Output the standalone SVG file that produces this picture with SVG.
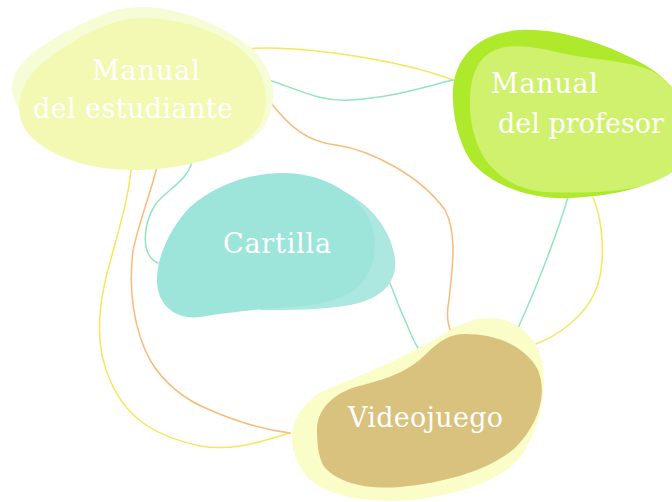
<svg xmlns="http://www.w3.org/2000/svg" width="672" height="502" viewBox="0 0 672 502">
<style>
.e{fill:none;stroke-width:1.5;stroke-linecap:round}
.y{stroke:#fde35a}
.m{stroke:#93e4c1}
.o{stroke:#f9bb7a}
.t{font-family:"DejaVu Serif","Liberation Serif",serif;font-size:27px;fill:#ffffff}
</style>
<rect width="672" height="502" fill="#ffffff"/>
<g id="connectors">
<path class="e y" d="M235,50 C290,42 400,60 453,80"/>
<path class="e m" d="M263,78 C300,90 320,102 350,100 C390,98 420,88 453,80"/>
<path class="e o" d="M266,96 C290,130 310,142 336,145 C370,150 420,175 445,210 C458,235 452,270 449,300 C446,315 448,325 451,332"/>
<path class="e m" d="M193,155 C192,180 165,190 155,205 C143,225 140,255 158,263"/>
<path class="e y" d="M131,170 C128,200 120,225 112,255 C100,295 92,340 110,380 C125,415 150,435 200,446 C235,452 265,440 290,433"/>
<path class="e o" d="M157,167 C150,195 138,225 133,251 C128,290 134,330 150,360 C165,385 185,400 210,410 C240,423 265,430 290,433"/>
<path class="e m" d="M375,258 C390,275 395,300 405,320 C410,332 414,342 418,348"/>
<path class="e m" d="M568,197 C560,225 540,280 518,328"/>
<path class="e y" d="M593,198 C603,220 607,265 595,292 C585,315 560,335 536,344"/>
</g>
<g id="node-estudiante">
<path fill="#f6fcd5" d="M140,7 C180,7 220,25 245,43 C265,58 275,80 273,100 C271,125 255,143 225,153 C190,162 120,160 80,150 C40,140 15,115 12,90 C10,65 40,45 70,30 C95,17 115,7 140,7 Z"/>
<path fill="#f3f9b3" d="M140,18 C180,18 215,30 238,47 C262,65 270,90 264,115 C257,140 230,155 190,164 C165,169 150,170 133,170 C90,170 55,158 32,138 C16,122 16,100 26,82 C40,60 70,42 95,30 C110,23 125,18 140,18 Z"/>
<text class="t" x="146" y="80" text-anchor="middle" textLength="108">Manual</text>
<text class="t" x="133" y="118" text-anchor="middle" textLength="200">del estudiante</text>
</g>
<g id="node-profesor">
<path fill="#aee92b" d="M453,90 C455,55 480,33 520,30 C560,28 610,45 645,65 C675,82 690,110 688,140 C685,175 640,195 570,198 C530,200 490,185 470,160 C458,140 452,115 453,90 Z"/>
<path fill="#d0f16d" d="M470,103 C470,75 478,52 505,47 C535,43 560,55 590,58 C615,61 635,64 650,70 C675,82 692,110 692,140 C690,170 655,186 620,190 C595,193 570,193 545,192 C515,190 490,172 480,150 C473,135 470,120 470,103 Z"/>
<text class="t" x="491" y="93" textLength="107">Manual</text>
<text class="t" x="498" y="133" textLength="166">del profesor</text>
</g>
<g id="node-cartilla">
<path fill="#ace7e0" d="M330,185 C365,198 390,225 395,258 C398,285 378,300 350,305 C320,310 290,310 260,310 L300,250 Z"/>
<path fill="#9de5da" d="M283,173 C320,173 350,190 365,212 C380,235 378,265 360,285 C345,300 320,305 290,307 C260,309 230,312 200,317 C175,320 158,305 157,282 C156,258 170,228 190,207 C215,185 250,173 283,173 Z"/>
<text class="t" x="223" y="253" textLength="108">Cartilla</text>
</g>
<g id="node-videojuego">
<path fill="#fbfdc9" d="M292,437 C292,418 305,398 330,388 C370,372 410,355 445,333 C462,322 478,318 490,318 C515,318 535,335 542,360 C548,390 540,430 520,458 C500,480 460,495 410,500 C370,503 330,497 310,480 C298,468 292,452 292,437 Z"/>
<path fill="#d9c17e" d="M317,430 C317,405 340,390 363,385 C390,378 410,370 425,355 C440,340 450,334 465,334 C495,334 525,345 538,370 C548,395 538,425 515,448 C490,470 445,483 400,487 C365,490 335,482 323,465 C318,455 317,442 317,430 Z"/>
<text class="t" x="348" y="427" textLength="155">Videojuego</text>
</g>
</svg>
